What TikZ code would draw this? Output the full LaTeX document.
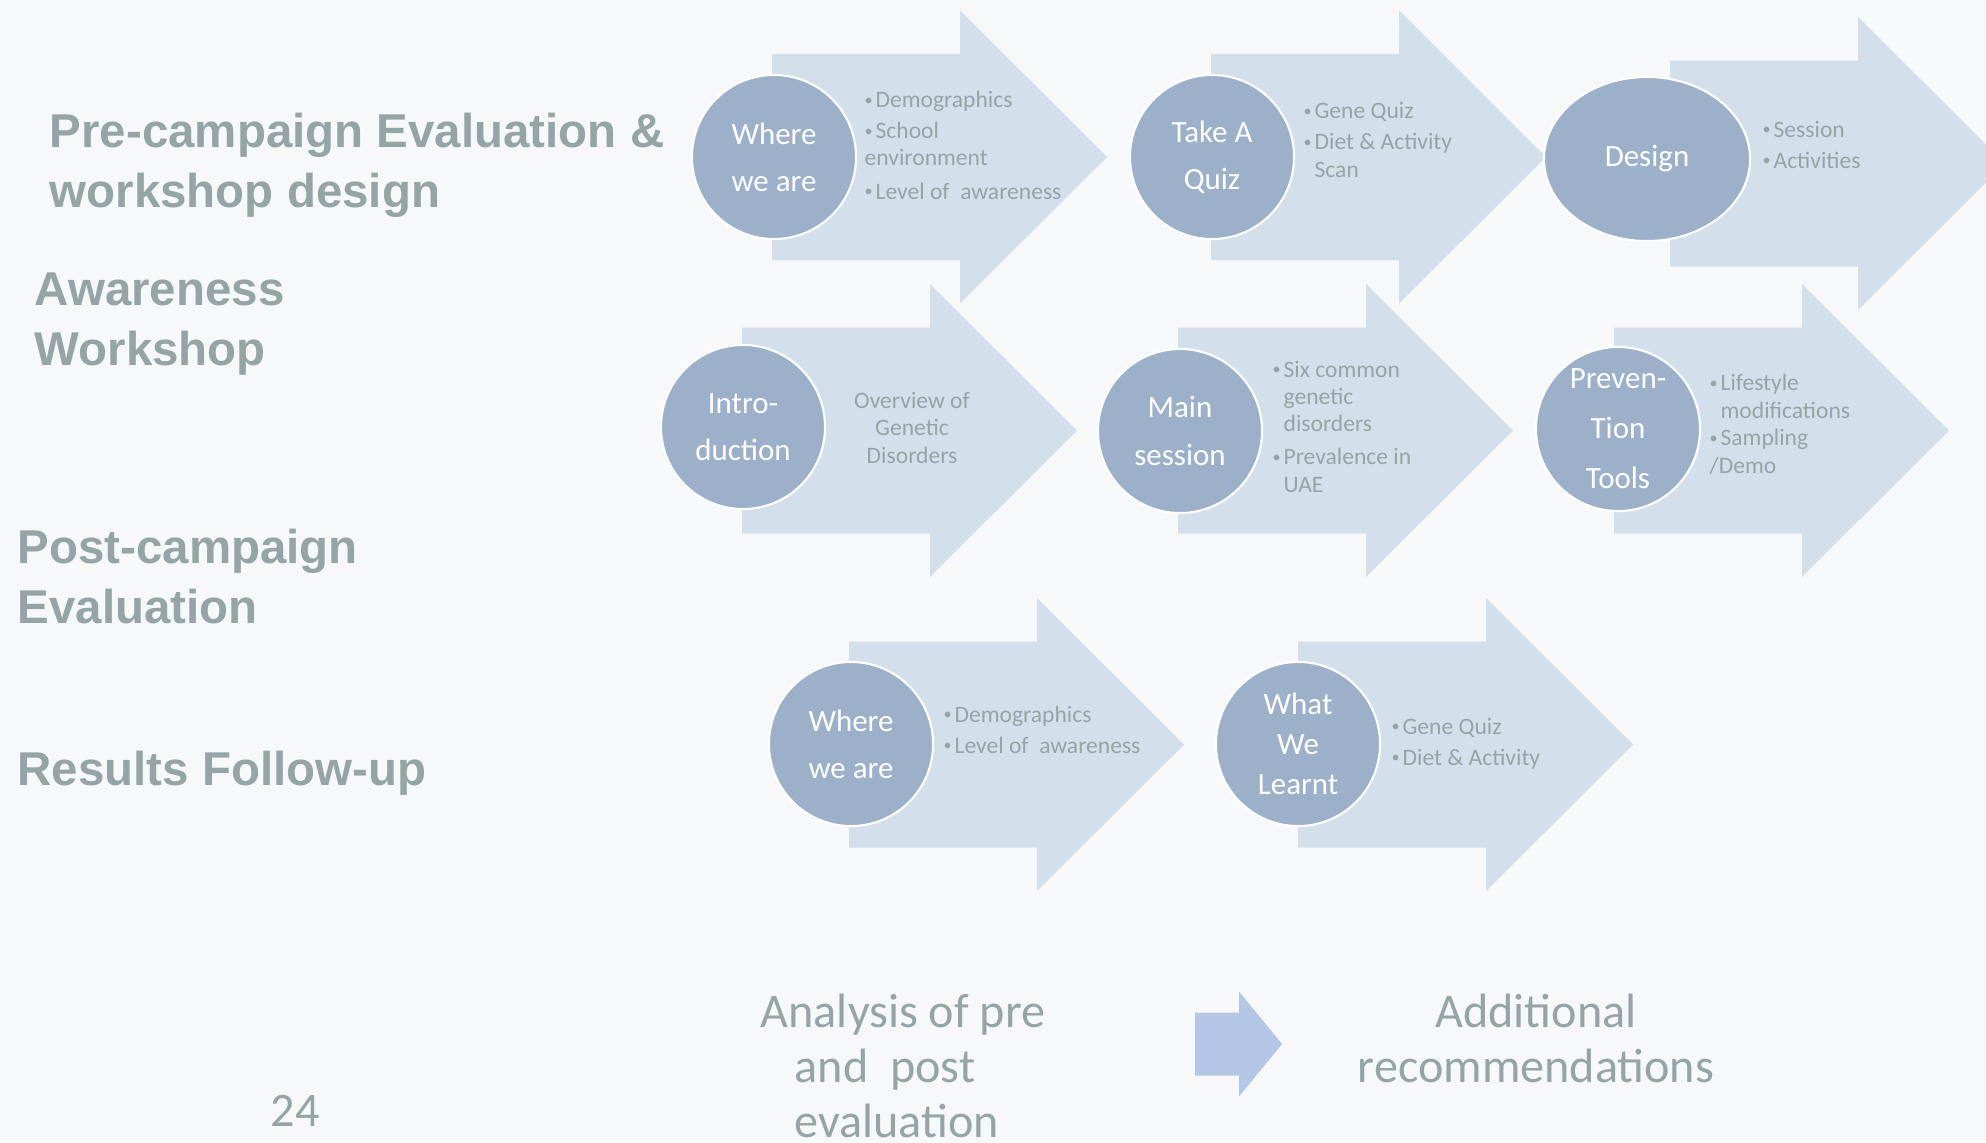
\documentclass[tikz,border=0pt]{standalone}
\usepackage{fontspec}
\setmainfont{Carlito}
\newfontfamily\headfont{Liberation Sans}
\usepackage{xcolor}
\usetikzlibrary{positioning, shapes.geometric}

\definecolor{slidebg}{HTML}{F7F8FA}
\definecolor{arrowblue}{HTML}{D4DFEC}
\definecolor{stepblue}{HTML}{9CB1C9}
\definecolor{greytext}{HTML}{95A5A6}
\definecolor{smallblue}{HTML}{B4C7E7}

\newcommand{\bul}{\makebox[3.1pt][l]{\fontsize{4.6}{4.6}\selectfont\raisebox{0.6pt}{\textbullet}}}
\newcommand{\ind}{\hspace*{3.1pt}}
\newcommand{\flowarrow}[1]{%
  \fill[arrowblue] (#1) ++(0,-103) -- ++(188,0) -- ++(0,-43.5) -- ++(147,146.5)
    -- ++(-147,146.5) -- ++(0,-43.5) -- ++(-188,0) -- cycle;}

\begin{document}
\begin{tikzpicture}[
    x=0.01cm, y=-0.01cm,
    stage/.style={circle, fill=stepblue, draw=white, line width=0.6pt, minimum size=1.64cm, inner sep=0pt, align=center, text=white, font=\fontsize{8.8}{13.4}\selectfont},
    points/.style={anchor=base west, inner sep=0pt, align=left, text=greytext, font=\fontsize{6.7}{7.8}\selectfont},
    phase/.style={anchor=base west, inner sep=0pt, align=left, text=greytext, font=\headfont\bfseries\fontsize{13.5}{16.8}\selectfont},
    closing/.style={anchor=base west, inner sep=0pt, text=greytext, font=\fontsize{13.7}{15.6}\selectfont}
]
\useasboundingbox (0,0) rectangle (1986,1142);
\clip (0,0) rectangle (1986,1142);
\fill[slidebg] (0,0) rectangle (1986,1142);

\node[phase] (pre) at (49,207) {Pre-campaign Evaluation \&\\workshop design};
\node[phase] (aware) at (34,365) {Awareness\\Workshop};
\node[phase] (post) at (17,623) {Post-campaign\\Evaluation};
\node[phase] (follow) at (17,785) {Results Follow-up};

\coordinate (arr1) at (772,157);
\coordinate (arr2) at (1211,157);
\coordinate (arr3) at (1670,163.5);
\coordinate (arr4) at (742,430.5);
\coordinate (arr5) at (1178,430.5);
\coordinate (arr6) at (1614,430.5);
\coordinate (arr7) at (849,744.5);
\coordinate (arr8) at (1298,744.5);
\foreach \a in {arr1,arr2,arr3,arr4,arr5,arr6,arr7,arr8}
  {\flowarrow{\a}}

\node[stage] (where1) at (774,157) {Where\\we are};
\node[stage] (quiz) at (1212,157) {Take A\\Quiz};
\node[stage, ellipse, minimum width=2.06cm, minimum height=1.64cm] (design) at (1647,159) {Design};
\node[stage] (intro) at (743,427) {Intro-\\duction};
\node[stage] (main) at (1180,431) {Main\\session};
\node[stage, font=\fontsize{8.8}{14.2}\selectfont] (prevent) at (1618,429) {Preven-\\Tion\\Tools};
\node[stage] (where2) at (851,744) {Where\\we are};
\node[stage, font=\fontsize{8.8}{11.3}\selectfont] (learnt) at (1298,744) {What\\We\\Learnt};

\node[points] (where1txt) at (864,199) {\bul Demographics\\[0.8pt]\bul School\\environment\\[1.7pt]\bul Level of\ \ awareness};
\node[points] (quiztxt) at (1303,177) {\bul Gene Quiz\\[1pt]\bul Diet \& Activity\\\ind Scan};
\node[points] (designtxt) at (1762,168) {\bul Session\\[1pt]\bul Activities};
\node[points, anchor=base, align=center] (introtxt) at (912,463) {Overview of\\Genetic\\Disorders};
\node[points] (maintxt) at (1272,492) {\bul Six common\\\ind genetic\\\ind disorders\\[1.5pt]\bul Prevalence in\\\ind UAE};
\node[points] (preventtxt) at (1709,473) {\bul Lifestyle\\\ind modifications\\\bul Sampling\\/Demo};
\node[points] (where2txt) at (943,753) {\bul Demographics\\[1pt]\bul Level of\ \ awareness};
\node[points] (learnttxt) at (1391,765) {\bul Gene Quiz\\[1pt]\bul Diet \& Activity};

\node[closing, align=left] (analysis) at (760,1137) {Analysis of pre\\\hspace*{0.34cm}and\ \ post\\\hspace*{0.34cm}evaluation};
\node[closing, anchor=base, align=center] (recommend) at (1536,1082) {Additional\\recommendations};
\coordinate (next) at (1195,1044);
\fill[smallblue] (next) ++(0,-31.5) -- ++(44,0) -- ++(0,-21) -- ++(43,52.5)
  -- ++(-43,52.5) -- ++(0,-21) -- ++(-44,0) -- cycle;

\node[closing] (page) at (270,1126) {24};
\end{tikzpicture}
\end{document}
